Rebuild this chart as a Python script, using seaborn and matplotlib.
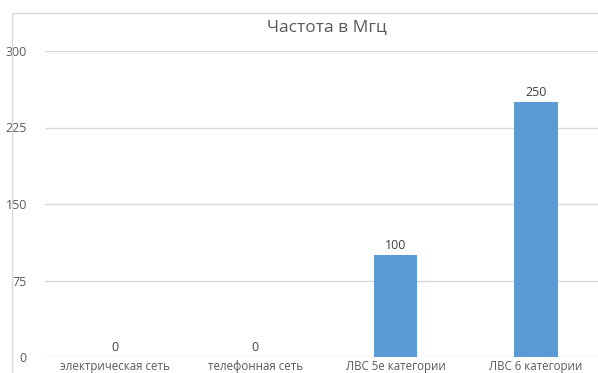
import matplotlib
matplotlib.use("Agg")
import matplotlib.pyplot as plt
from matplotlib.patches import Rectangle
import seaborn as sns
import pandas as pd

categories = ["электрическая сеть", "телефонная сеть", "ЛВС 5е категории", "ЛВС 6 категории"]
values = [0, 0, 100, 250]
y_ticks = [0, 75, 150, 225, 300]
title = "Частота в Мгц"

df = pd.DataFrame({"cat": categories, "val": values})

sns.set_theme(style="white")
plt.rcParams["font.family"] = ["Open Sans", "DejaVu Sans"]

W, H = 598, 373
fig = plt.figure(figsize=(W / 100, H / 100), dpi=100)
ax = fig.add_axes([45 / W, 16 / H, (W - 45) / W, (357 - 51) / H])

sns.barplot(data=df, x="cat", y="val", color="#5b9bd5", width=0.31,
            saturation=1, linewidth=0, ax=ax, zorder=3)

ax.set_ylim(0, 300)
ax.set_xlim(-0.5, 3 + (W - 536) / 140)
ax.set_yticks(y_ticks)
ax.set_yticklabels([str(t) for t in y_ticks])
ax.grid(axis="y", color="#d9d9d9", linewidth=1, zorder=0)
ax.set_axisbelow(True)
for s in ax.spines.values():
    s.set_visible(False)
ax.tick_params(axis="y", length=0, pad=13, labelsize=9, labelcolor="#595959")
ax.tick_params(axis="x", length=0, pad=2, labelsize=8.3, labelcolor="#595959")
ax.set_xlabel("")
ax.set_ylabel("")

for i, v in enumerate(values):
    ax.annotate(str(v), (i, v), xytext=(0, 2), textcoords="offset points",
                ha="center", va="bottom", fontsize=9, color="#404040")

fig.text(327 / W, 1 - 27 / H, title, ha="center", va="center",
         fontsize=12.5, color="#595959")

# chart area frame
fig.add_artist(Rectangle((12 / W, -0.1), 1.2, 1 - 13 / H + 0.1,
                         transform=fig.transFigure, fill=False,
                         edgecolor="#d9d9d9", linewidth=1))

fig.savefig("out.png", dpi=100)
